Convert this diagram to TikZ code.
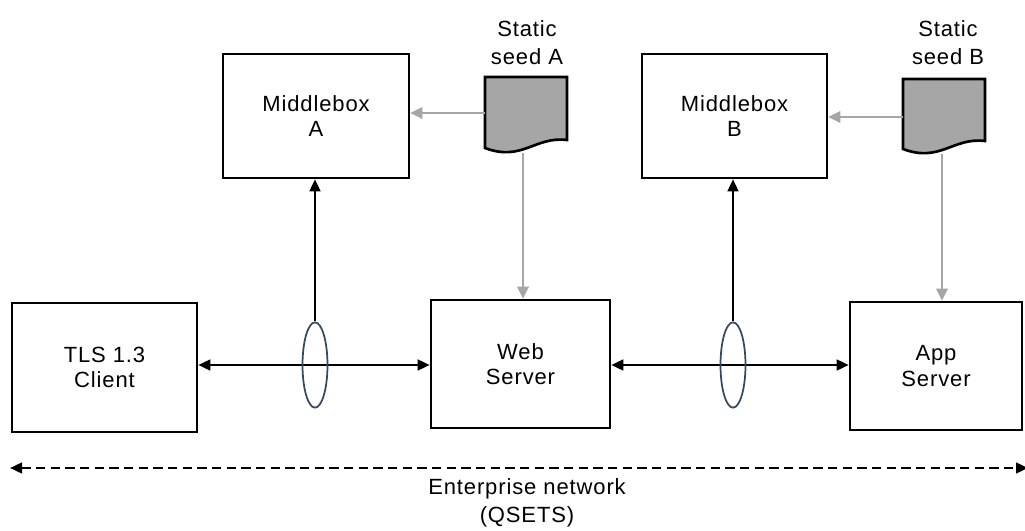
\documentclass[tikz,border=0pt]{standalone}
\usepackage{fontspec}
\setmainfont[LetterSpace=4]{Liberation Sans}
\usetikzlibrary{arrows.meta,shapes.geometric}
\definecolor{seedgray}{HTML}{A6A6A6}
\definecolor{ringcol}{HTML}{34495E}
\tikzset{
  box/.style={draw=black, line width=1.9pt, fill=white, align=center, font=\fontsize{16.5}{19}\selectfont, inner sep=0pt},
  conn/.style={line width=1.8pt, {Triangle[length=9pt,width=8pt]}-{Triangle[length=9pt,width=8pt]}},
  up/.style={line width=1.8pt, -{Triangle[length=9pt,width=8pt]}},
  seedarrow/.style={draw=seedgray, line width=1.8pt, -{Triangle[length=9pt,width=8.5pt]}},
  ring/.style={draw=ringcol, line width=1.3pt, ellipse, minimum width=18.75pt, minimum height=64pt, inner sep=0pt},
  lab/.style={align=center, font=\fontsize{16.5}{21}\selectfont},
  doc/.style={draw=black, line width=2pt, fill=seedgray}
}
\begin{document}
\begin{tikzpicture}[x=0.75pt,y=-0.75pt]
\useasboundingbox (0,0) rectangle (1025,531);
% boxes
\node[box, minimum width=138.75pt, minimum height=96.75pt] (tls) at (104.5,367.5) {TLS 1.3\\Client};
\node[box, minimum width=134.25pt, minimum height=96pt] (web) at (520.5,364) {Web\\Server};
\node[box, minimum width=129pt, minimum height=96pt] (app) at (936,366) {App\\Server};
\node[box, minimum width=139.5pt, minimum height=93pt] (mba) at (316,116) {Middlebox\\A};
\node[box, minimum width=138.75pt, minimum height=93pt] (mbb) at (734.5,116) {Middlebox\\B};
% seed documents
\draw[doc] (485,77) -- (567,77) -- (567,140) .. controls (535,136) and (522,162) .. (485,148) -- cycle;
\draw[doc] (903,79) -- (985,79) -- (985,141) .. controls (953,137) and (940,163) .. (903,149) -- cycle;
\coordinate (sdaL) at (485,113);
\coordinate (sdaB) at (523,153);
\coordinate (sdbL) at (903,117);
\coordinate (sdbB) at (942,154);
\node[lab] (sta) at (527,43) {Static\\seed A};
\node[lab] (stb) at (948,43) {Static\\seed B};
% grey seed arrows
\draw[seedarrow] (sdaL) -- (mba.east |- sdaL);
\draw[seedarrow] (sdaB) -- (sdaB |- web.north);
\draw[seedarrow] (sdbL) -- (mbb.east |- sdbL);
\draw[seedarrow] (sdbB) -- (sdbB |- app.north);
% connections
\coordinate (ya) at (0,365);
\draw[conn] (tls.east |- ya) -- (web.west |- ya);
\draw[conn] (web.east |- ya) -- (app.west |- ya);
\node[ring] (ra) at (315,365) {};
\node[ring] (rb) at (733,365) {};
\draw[up] (ra.north) -- (ra.north |- mba.south);
\draw[up] (rb.north) -- (rb.north |- mbb.south);
% enterprise network
\coordinate (nl) at (10,468);
\coordinate (nr) at (1028,468);
\draw[line width=1.8pt, dash pattern=on 7pt off 4pt, {Triangle[length=9pt,width=8pt]}-{Triangle[length=9pt,width=8pt]}] (nl) -- (nr);
\node[lab] (ent) at (527,503) {Enterprise network\\(QSETS)};
\end{tikzpicture}
\end{document}
